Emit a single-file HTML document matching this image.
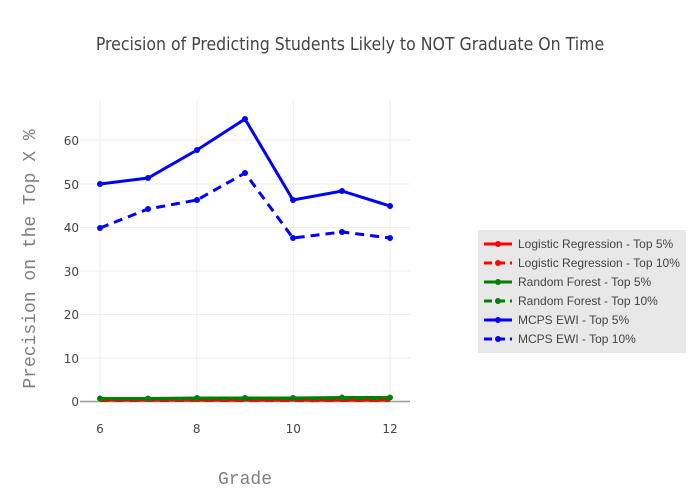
<!DOCTYPE html>
<html><head><meta charset="utf-8"><style>body{margin:0;background:#fff}svg{display:block}</style></head><body>
<svg width="700" height="500" xmlns="http://www.w3.org/2000/svg" font-family="'Liberation Sans',sans-serif">
<rect width="700" height="500" fill="#fff"/>
<text x="350" y="50" text-anchor="middle" font-family="'DejaVu Sans Condensed','DejaVu Sans',sans-serif" font-size="17.5" fill="#444">Precision of Predicting Students Likely to NOT Graduate On Time</text>
<g stroke="#eee" stroke-width="1">
<line x1="100" y1="100" x2="100" y2="401"/><line x1="196.7" y1="100" x2="196.7" y2="401"/><line x1="293.3" y1="100" x2="293.3" y2="401"/><line x1="390" y1="100" x2="390" y2="401"/>
<line x1="80" y1="140" x2="410" y2="140"/><line x1="80" y1="184" x2="410" y2="184"/><line x1="80" y1="227.5" x2="410" y2="227.5"/><line x1="80" y1="271" x2="410" y2="271"/><line x1="80" y1="314.5" x2="410" y2="314.5"/><line x1="80" y1="358" x2="410" y2="358"/>
</g>
<line x1="80" y1="401.5" x2="410" y2="401.5" stroke="#999" stroke-width="1.5"/>
<g font-size="12" fill="#444" text-anchor="end" font-family="'DejaVu Sans',sans-serif">
<text x="79" y="145">60</text><text x="79" y="189">50</text><text x="79" y="232">40</text><text x="79" y="276">30</text><text x="79" y="319">20</text><text x="79" y="363">10</text><text x="79" y="406">0</text>
</g>
<g font-size="12" fill="#444" text-anchor="middle" font-family="'DejaVu Sans',sans-serif">
<text x="100" y="433">6</text><text x="196.7" y="433">8</text><text x="293.3" y="433">10</text><text x="390" y="433">12</text>
</g>
<text x="245" y="484" text-anchor="middle" font-family="'Liberation Mono',monospace" font-size="18" fill="#7f7f7f">Grade</text>
<text transform="translate(35,259) rotate(-90)" text-anchor="middle" font-family="'Liberation Mono',monospace" font-size="18" fill="#7f7f7f">Precision on the Top X %</text>
<g fill="none" stroke-width="3">
<polyline stroke="red" points="100,400 148,400 197,400 245,400 293,400 342,400 390,400"/>
<polyline stroke="red" stroke-dasharray="9,6" points="100,400.5 148,400.5 197,400.5 245,400.5 293,400.5 342,400.5 390,400.5"/>
<polyline stroke="green" stroke-dasharray="9,6" points="100,399 148,399 197,399 245,398.5 293,398.5 342,398.5 390,398.5"/>
<polyline stroke="green" points="100,398.5 148,398.5 197,398 245,398 293,398 342,397.5 390,397.5"/>
<polyline stroke="blue" points="100,184 148,178 197,150 245,119 293,200 342,191 390,206"/>
<polyline stroke="blue" stroke-dasharray="9,6" points="100,228 148,209 197,200 245,173 293,238 342,232 390,238"/>
</g>
<g fill="green">
<circle cx="100" cy="398.5" r="3"/><circle cx="148" cy="398.5" r="3"/><circle cx="197" cy="398" r="3"/><circle cx="245" cy="398" r="3"/><circle cx="293" cy="398" r="3"/><circle cx="342" cy="397.5" r="3"/><circle cx="390" cy="397.5" r="3"/>
</g>
<g fill="blue">
<circle cx="100" cy="184" r="3"/><circle cx="148" cy="178" r="3"/><circle cx="197" cy="150" r="3"/><circle cx="245" cy="119" r="3"/><circle cx="293" cy="200" r="3"/><circle cx="342" cy="191" r="3"/><circle cx="390" cy="206" r="3"/>
<circle cx="100" cy="228" r="3"/><circle cx="148" cy="209" r="3"/><circle cx="197" cy="200" r="3"/><circle cx="245" cy="173" r="3"/><circle cx="293" cy="238" r="3"/><circle cx="342" cy="232" r="3"/><circle cx="390" cy="238" r="3"/>
</g>
<rect x="478" y="230" width="208" height="123" fill="#e8e8e8"/>
<g stroke-width="3">
<line x1="484" y1="244" x2="512" y2="244" stroke="red"/>
<line x1="484" y1="263" x2="512" y2="263" stroke="red" stroke-dasharray="8,5"/>
<line x1="484" y1="282" x2="512" y2="282" stroke="green"/>
<line x1="484" y1="301" x2="512" y2="301" stroke="green" stroke-dasharray="8,5"/>
<line x1="484" y1="320" x2="512" y2="320" stroke="blue"/>
<line x1="484" y1="339" x2="512" y2="339" stroke="blue" stroke-dasharray="8,5"/>
</g>
<circle cx="498" cy="244" r="3" fill="red"/><circle cx="498" cy="263" r="3" fill="red"/>
<circle cx="498" cy="282" r="3" fill="green"/><circle cx="498" cy="301" r="3" fill="green"/>
<circle cx="498" cy="320" r="3" fill="blue"/><circle cx="498" cy="339" r="3" fill="blue"/>
<g font-size="12" fill="#444">
<text x="518" y="248">Logistic Regression - Top 5%</text>
<text x="518" y="267">Logistic Regression - Top 10%</text>
<text x="518" y="286">Random Forest - Top 5%</text>
<text x="518" y="305">Random Forest - Top 10%</text>
<text x="518" y="324">MCPS EWI - Top 5%</text>
<text x="518" y="343">MCPS EWI - Top 10%</text>
</g>
</svg>
</body></html>
